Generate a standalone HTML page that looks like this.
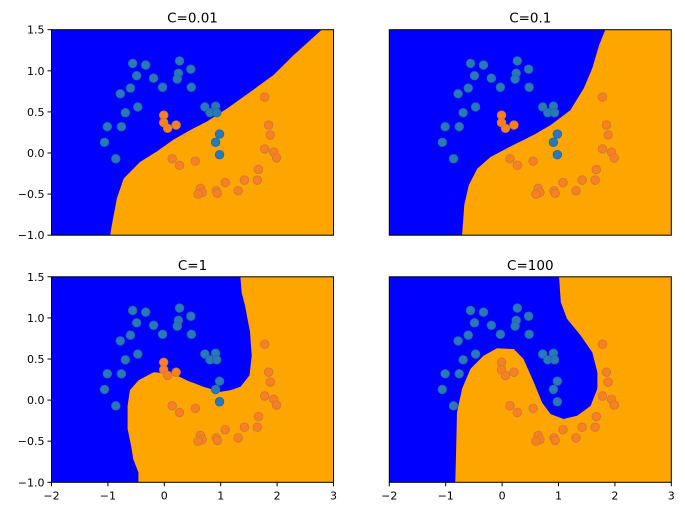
<!DOCTYPE html>
<html><head><meta charset="utf-8"><style>
html,body{margin:0;padding:0;background:#fff;}
svg{display:block;font-family:"DejaVu Sans","Liberation Sans",sans-serif;}
</style></head><body>
<svg id="fig" width="685" height="515" viewBox="0 0 685 515" xmlns="http://www.w3.org/2000/svg"></svg>
<script>
const titles = ["C=0.01","C=0.1","C=1","C=100"];
const xTicks = [-2,-1,0,1,2,3];
const yTicks = [1.5,1.0,0.5,0.0,-0.5,-1.0];
const yTickLabels = ["1.5","1.0","0.5","0.0","\u22120.5","\u22121.0"];
const xTickLabels = ["\u22122","\u22121","0","1","2","3"];
const blueX = [-0.56,-0.33,0.27,-0.49,-0.19,0.25,0.23,0.47,-0.03,0.48,-0.60,-0.78,-0.47,-0.69,-1.01,-0.76,-1.06,-0.86,0.72,0.91,0.81,0.93,0.98,0.91,0.98];
const blueY = [1.09,1.07,1.12,0.94,0.91,0.97,0.90,1.02,0.80,0.80,0.79,0.72,0.56,0.49,0.32,0.32,0.13,-0.07,0.56,0.57,0.49,0.49,0.23,0.13,-0.02];
const orangeX = [-0.01,-0.01,0.06,0.21,1.78,1.85,1.88,1.78,1.94,1.99,0.14,0.27,0.55,1.67,1.65,1.42,1.08,1.31,0.64,0.67,0.60,0.92,0.94];
const orangeY = [0.46,0.37,0.30,0.34,0.68,0.34,0.22,0.05,0.01,-0.06,-0.07,-0.15,-0.10,-0.20,-0.33,-0.33,-0.36,-0.46,-0.43,-0.48,-0.50,-0.46,-0.49];
// decision boundary (orange region edge) per panel, in data coords
const b1x = [-0.96,-0.93,-0.84,-0.72,-0.43,-0.13,0.16,0.52,0.75,1.11,1.58,1.94,2.29,2.79];
const b1y = [-1.0,-0.88,-0.55,-0.31,-0.11,0.02,0.16,0.30,0.38,0.54,0.77,0.95,1.19,1.5];
const b2x = [-0.71,-0.67,-0.59,-0.44,-0.21,0.15,0.56,0.86,1.21,1.45,1.60,1.72,1.83];
const b2y = [-1.0,-0.63,-0.39,-0.19,-0.05,0.08,0.22,0.34,0.52,0.79,1.03,1.31,1.5];
const b3x = [-0.46,-0.46,-0.55,-0.59,-0.65,-0.65,-0.61,-0.46,-0.19,0.16,0.40,0.70,0.99,1.17,1.35,1.51,1.55,1.52,1.43,1.37,1.35];
const b3y = [-1.0,-0.88,-0.72,-0.55,-0.35,-0.07,0.12,0.24,0.34,0.32,0.24,0.16,0.10,0.12,0.16,0.30,0.54,0.83,1.15,1.31,1.5];
const b4x = [-0.83,-0.81,-0.80,-0.71,-0.56,-0.33,-0.09,0.21,0.38,0.56,0.71,0.86,1.09,1.33,1.57,1.69,1.69,1.60,1.39,1.15,1.04,1.01];
const b4y = [-1.0,-0.47,-0.15,0.14,0.38,0.54,0.63,0.62,0.50,0.22,-0.03,-0.17,-0.23,-0.19,-0.07,0.14,0.34,0.58,0.79,0.99,1.19,1.5];
const bx = [b1x,b2x,b3x,b4x], by = [b1y,b2y,b3y,b4y];

const NS = "http://www.w3.org/2000/svg";
const svg = document.getElementById("fig");
function mk(tag, attrs, parent){const e=document.createElementNS(NS,tag);for(const k in attrs)e.setAttribute(k,attrs[k]);(parent||svg).appendChild(e);return e;}
const panels = [{l:51.5,t:29.7},{l:389.3,t:29.7},{l:51.5,t:276.8},{l:389.3,t:276.8}];
const W=282, H=205.5;
panels.forEach((p,i)=>{
  const g = mk("g",{});
  
  
  const sx = v => p.l + (v+2)/5*W;
  const sy = v => p.t + (1.5-v)/2.5*H;
  const clipId="clip"+i;
  const cp = mk("clipPath",{id:clipId},g); mk("rect",{x:p.l,y:p.t,width:W,height:H},cp);
  const bg = mk("rect",{x:p.l,y:p.t,width:W,height:H,fill:"#0000ff"},g);
  
  
  let pts = bx[i].map((x,j)=>sx(x).toFixed(1)+","+sy(by[i][j]).toFixed(1));
  pts.push(sx(3)+","+sy(1.5)); pts.push(sx(3)+","+sy(-1));
  const poly = mk("polygon",{points:pts.join(" "),fill:"#ffa500","clip-path":"url(#"+clipId+")"},g);
  
  
  blueX.forEach((x,j)=>{
    const c = mk("circle",{cx:sx(x),cy:sy(blueY[j]),r:4.3,fill:"#2a78b8",stroke:"#1f69a8","stroke-width":0.8},g);
    
    
  });
  orangeX.forEach((x,j)=>{
    const c = mk("circle",{cx:sx(x),cy:sy(orangeY[j]),r:4.3,fill:"#f8801e",stroke:"#c47a45","stroke-width":0.8},g);
    
    
  });
  mk("rect",{x:p.l,y:p.t,width:W,height:H,fill:"none",stroke:"#000","stroke-width":1},g);
  const t = mk("text",{x:p.l+W/2,y:p.t-7,"text-anchor":"middle","font-size":"13.5",fill:"#000"},g);
  t.textContent = titles[i];
  
  
  if(i%2===0){
    yTicks.forEach((v,j)=>{
      mk("line",{x1:p.l-4,x2:p.l,y1:sy(v),y2:sy(v),stroke:"#000","stroke-width":1},g);
      const tl = mk("text",{x:p.l-7,y:sy(v)+4,"text-anchor":"end","font-size":"11",fill:"#000"},g);
      tl.textContent = yTickLabels[j];
      
      
    });
  }
  if(i>=2){
    xTicks.forEach((v,j)=>{
      mk("line",{x1:sx(v),x2:sx(v),y1:p.t+H,y2:p.t+H+4,stroke:"#000","stroke-width":1},g);
      const tl = mk("text",{x:sx(v),y:p.t+H+17,"text-anchor":"middle","font-size":"11",fill:"#000"},g);
      tl.textContent = xTickLabels[j];
      
      
    });
  }
});
</script>
</body></html>
